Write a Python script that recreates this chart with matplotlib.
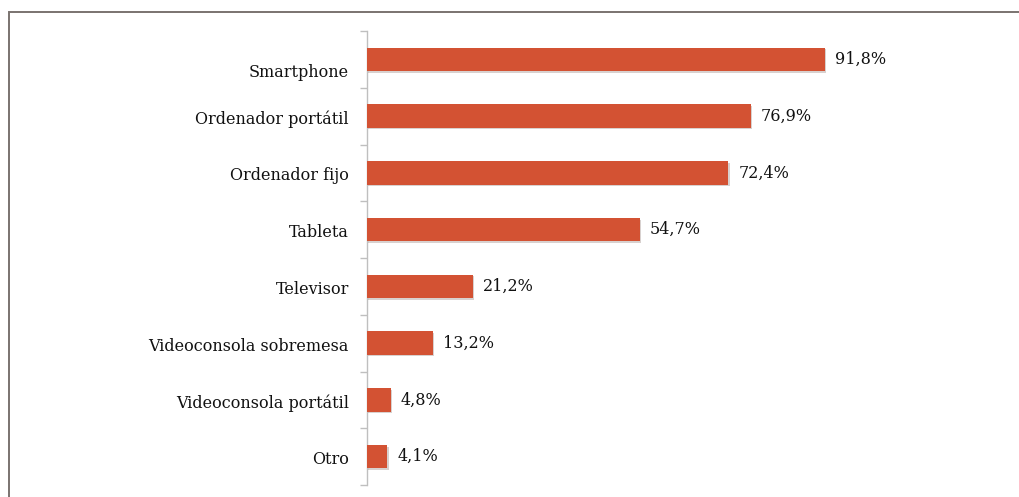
import matplotlib
matplotlib.use("Agg")
from matplotlib import pyplot as plt
from matplotlib import patheffects
from matplotlib import transforms
from matplotlib.patches import Rectangle

categories = [
    "Smartphone",
    "Ordenador portátil",
    "Ordenador fijo",
    "Tableta",
    "Televisor",
    "Videoconsola sobremesa",
    "Videoconsola portátil",
    "Otro",
]
values = [91.8, 76.9, 72.4, 54.7, 21.2, 13.2, 4.8, 4.1]

plt.rcParams["font.family"] = ["DejaVu Serif"]

fig = plt.figure(figsize=(10.19, 4.97), dpi=100)
ax = fig.add_axes([367 / 1019, 1 - 485 / 497, 499 / 1019, 454 / 497])

# outer frame (clipped on the right and bottom like the original)
fig.patches.append(
    Rectangle((9 / 1019, -0.2), 1.2, 1.2 - 12 / 497,
              transform=fig.transFigure, fill=False,
              edgecolor="#7a7370", linewidth=1.4)
)

y = list(range(len(categories)))
bars = ax.barh(y, values, height=0.41, color="#d35233", zorder=3)
for b in bars:
    b.set_path_effects([
        patheffects.SimplePatchShadow(offset=(1.0, -1.2), alpha=0.2),
        patheffects.Normal(),
    ])

for yi, v in zip(y, values):
    ax.text(v + 2.0, yi, f"{v:.1f}%".replace(".", ","),
            va="center", ha="left", fontsize=11.5, color="#111111")

ax.set_xlim(0, 100)
ax.set_ylim(len(categories) - 0.5, -0.5)

ax.set_yticks(y)
ax.set_yticklabels(categories, fontsize=11.5, color="#111111")
ax.tick_params(axis="y", which="major", length=0, pad=13)
ax.set_yticks([i - 0.5 for i in range(len(categories) + 1)], minor=True)
ax.tick_params(axis="y", which="minor", length=5, width=1, color="#bfbfbf")
ax.set_xticks([])

# the original sits its labels a touch low, the first one much lower
for i, lbl in enumerate(ax.get_yticklabels()):
    dy = -11 if i == 0 else -1
    lbl.set_transform(lbl.get_transform() +
                      transforms.ScaledTranslation(0, dy / 100, fig.dpi_scale_trans))

for s in ["top", "right", "bottom"]:
    ax.spines[s].set_visible(False)
ax.spines["left"].set_color("#bfbfbf")
ax.spines["left"].set_linewidth(1)

fig.savefig("out.png", dpi=100)
